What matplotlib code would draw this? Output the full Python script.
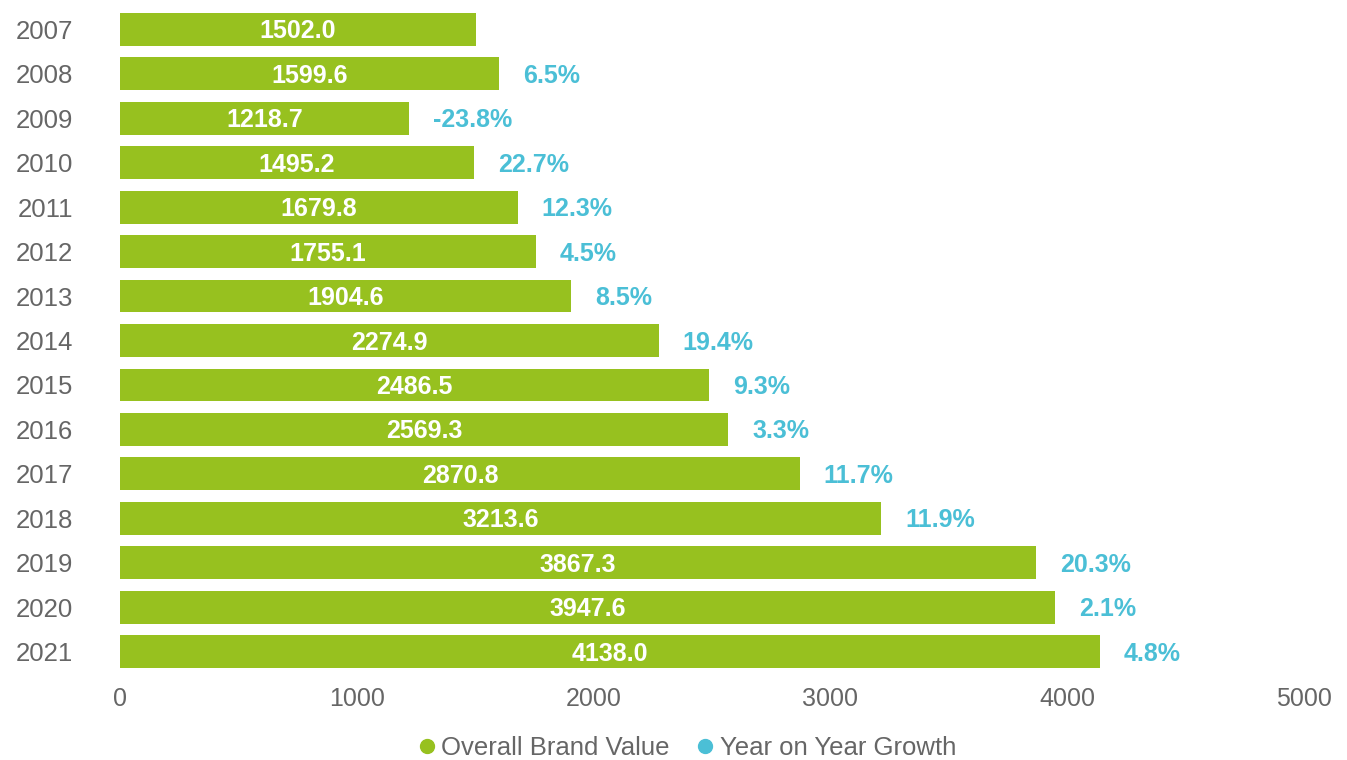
import matplotlib.pyplot as plt
from matplotlib.lines import Line2D
from matplotlib import transforms

years = ["2007", "2008", "2009", "2010", "2011", "2012", "2013", "2014",
         "2015", "2016", "2017", "2018", "2019", "2020", "2021"]
brand_value = [1502.0, 1599.6, 1218.7, 1495.2, 1679.8, 1755.1, 1904.6, 2274.9,
               2486.5, 2569.3, 2870.8, 3213.6, 3867.3, 3947.6, 4138.0]
growth = [None, 6.5, -23.8, 22.7, 12.3, 4.5, 8.5, 19.4,
          9.3, 3.3, 11.7, 11.9, 20.3, 2.1, 4.8]

green = "#97c11f"
cyan = "#4bbfd6"
gray = "#666666"

plt.rcParams['font.family'] = ['Liberation Sans', 'DejaVu Sans']

fig = plt.figure(figsize=(13.47, 7.6), dpi=100)
ax = fig.add_axes([120/1347, 1 - 674/760, (1304 - 120)/1347, (674 - 7)/760])

pos = list(range(len(years)))
ax.barh(pos, brand_value, height=0.74, color=green)
ax.set_ylim(len(years) - 0.5, -0.5)
ax.set_xlim(0, 5000)
ax.set_xticks([0, 1000, 2000, 3000, 4000, 5000])
ax.set_yticks(pos)
ax.set_yticklabels(years)
ax.tick_params(length=0, colors=gray, labelsize=18)
ax.tick_params(axis='y', pad=34, labelsize=18.5)
ax.tick_params(axis='x', pad=9)
for lab in ax.get_yticklabels():
    lab.set_verticalalignment('center_baseline')
for s in ax.spines.values():
    s.set_visible(False)

off = transforms.offset_copy(ax.transData, fig=fig, x=24, y=-2, units='dots')
mid = transforms.offset_copy(ax.transData, fig=fig, x=0, y=-2, units='dots')
for i, (v, g) in enumerate(zip(brand_value, growth)):
    ax.text(v / 2, i, f"{v:.1f}", ha='center', va='center', color='white',
            fontsize=18, fontweight='bold', transform=mid)
    if g is not None:
        ax.text(v, i, f"{g:.1f}%", ha='left', va='center', color=cyan,
                fontsize=18, fontweight='bold', transform=off)

handles = [Line2D([], [], marker='o', linestyle='none', color=green, markersize=10),
           Line2D([], [], marker='o', linestyle='none', color=cyan, markersize=10)]
leg = fig.legend(handles, ["Overall Brand Value", "Year on Year Growth"],
                 loc='center', bbox_to_anchor=(685/1347, 1 - 748/760), ncol=2,
                 frameon=False, fontsize=18.5, handletextpad=0.05, columnspacing=0.9,
                 handlelength=1.0)
for t in leg.get_texts():
    t.set_color(gray)

fig.savefig("out.png", dpi=100)
